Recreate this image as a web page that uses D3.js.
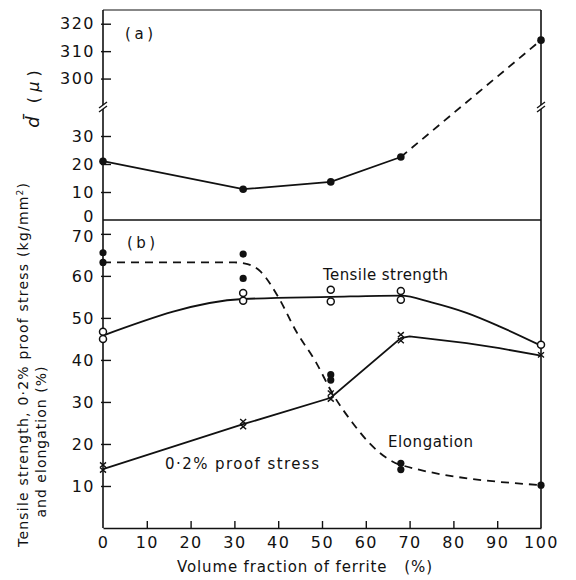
<!DOCTYPE html>
<html>
<head>
<meta charset="utf-8">
<script src="https://cdn.jsdelivr.net/npm/d3@7"></script>
<style>
body { margin: 0; background: #fff; }
text { font-family: "DejaVu Sans", sans-serif; fill: #111; white-space: pre; }
</style>
</head>
<body>
<div id="chart"></div>
<script>
var w = 576;
var h = 580;

// ---- data ----
var ferrite = [0, 32, 52, 68, 100];           // volume fraction of ferrite (%)
var grainSize = [21, 11, 13.6, 22.5, 314];     // mean grain size d (micron)

// measured points (two specimens per composition)
var tensileX = [0, 0, 32, 32, 52, 52, 68, 68, 100];
var tensileY = [46.7, 45, 55.9, 54.1, 56.7, 53.9, 56.4, 54.3, 43.6];
var proofX = [0, 0, 32, 32, 52, 52, 68, 68, 100];
var proofY = [15, 13.8, 25.3, 24.1, 32.1, 30.7, 46, 44.6, 41.2];
var elongX = [0, 0, 32, 32, 52, 52, 68, 68, 100];
var elongY = [65.5, 63.2, 65.2, 59.4, 36.5, 35.2, 15.4, 13.9, 10.2];

// hand drawn trend curves, as traced on the figure
var tensileCurveX = [0, 32, 52, 68, 75, 83, 90.5, 100];
var tensileCurveY = [45.8, 54.5, 55, 55.3, 53.7, 51.2, 48, 43.4];
var proofCurveX = [0, 32, 52, 68, 70, 83, 90.5, 100];
var proofCurveY = [14, 24.7, 31, 45.2, 45.6, 44, 42.8, 41];
var elongCurveX = [0, 30, 33, 36, 40, 44, 48.7, 52.4, 57, 61, 65, 68, 100];
var elongCurveY = [63.2, 63.2, 62.8, 61, 55, 47, 39.3, 32, 25, 20, 16.5, 15, 10.2];

var xTicks = [0, 10, 20, 30, 40, 50, 60, 70, 80, 90, 100];
var aTicks = [0, 10, 20, 30, 300, 310, 320];
var bTicks = [10, 20, 30, 40, 50, 60, 70];

function zip(xs, ys) { return xs.map(function(d, i) { return [d, ys[i]]; }); }

var svg = d3.select("#chart").append("svg")
  .attr("width", w)
  .attr("height", h);

// scales
var x = d3.scaleLinear().domain([0, 100]).range([103, 541]);
// panel (a) has a broken axis: 0-40 below the break, 290-325 above it
var yA = d3.scaleLinear().domain([0, 40, 290, 325]).range([220, 108, 106, 10]);
var yB = d3.scaleLinear().domain([0, 73.3]).range([528, 220]);

// ---- frame ----
var frame = svg.append("g").attr("stroke", "#111").attr("stroke-width", 1.6).attr("fill", "none");
frame.append("line").attr("x1", x(0)).attr("x2", x(100)).attr("y1", yA(325)).attr("y2", yA(325)).attr("stroke-width", 1.2);
frame.append("line").attr("x1", x(0)).attr("x2", x(100)).attr("y1", yA(0)).attr("y2", yA(0));
frame.append("line").attr("x1", x(100)).attr("x2", x(100)).attr("y1", yA(325)).attr("y2", yB(0));

// axes
var axA = svg.append("g")
  .attr("transform", "translate(" + x(0) + ",0)")
  .call(d3.axisLeft(yA).tickValues(aTicks).tickSizeInner(-8).tickSizeOuter(0).tickPadding(8));
var axB = svg.append("g")
  .attr("transform", "translate(" + x(0) + ",0)")
  .call(d3.axisLeft(yB).tickValues(bTicks).tickSizeInner(-8).tickSizeOuter(0).tickPadding(8));
var axX = svg.append("g")
  .attr("transform", "translate(0," + yB(0) + ")")
  .call(d3.axisBottom(x).tickValues(xTicks).tickSizeInner(-7).tickSizeOuter(0).tickPadding(9));

[axA, axB, axX].forEach(function(ax) {
  ax.select(".domain").attr("stroke", "#111").attr("stroke-width", 1.6);
  ax.selectAll(".tick line").attr("stroke", "#111").attr("stroke-width", 1.4);
  ax.selectAll(".tick text").attr("font-size", 16).attr("letter-spacing", 1.5)
    .attr("font-family", "DejaVu Sans").attr("fill", "#111");
});
axA.selectAll(".tick line").attr("x1", -2);
axB.selectAll(".tick line").attr("x1", -2);
axA.select(".domain").attr("d", "M0," + yA(325) + "V" + yA(0));
axB.select(".domain").attr("d", "M0," + yB(73.3) + "V" + yB(0));
axX.selectAll(".tick").filter(function(d) { return d === 0 || d === 100; }).select("line").remove();
// the two panels share the 0 / 70 corner: nudge those labels apart a little
axA.selectAll(".tick").filter(function(d) { return d === 0; }).select("line").remove();
axA.selectAll(".tick").filter(function(d) { return d === 0; }).select("text").attr("dy", "0.1em");
axB.selectAll(".tick").filter(function(d) { return d === 70; }).select("text").attr("dy", "0.45em");

// axis break marks on panel (a)
var yBreak = (yA(40) + yA(290)) / 2;
[x(0), x(100)].forEach(function(px) {
  svg.append("rect").attr("x", px - 3).attr("y", yBreak - 2).attr("width", 6).attr("height", 4).attr("fill", "#fff");
  [-2, 2].forEach(function(o) {
    svg.append("line")
      .attr("x1", px - 4).attr("x2", px + 4)
      .attr("y1", yBreak + o + 3).attr("y2", yBreak + o - 3)
      .attr("stroke", "#111").attr("stroke-width", 1.3);
  });
});

// ---- panel (a): grain size ----
var lineA = d3.line().x(function(d) { return x(d[0]); }).y(function(d) { return yA(d[1]); });
var ptsA = zip(ferrite, grainSize);
svg.append("path").datum(ptsA.slice(0, 4)).attr("d", lineA)
  .attr("fill", "none").attr("stroke", "#111").attr("stroke-width", 1.8);
svg.append("path").datum(ptsA.slice(3)).attr("d", lineA)
  .attr("fill", "none").attr("stroke", "#111").attr("stroke-width", 1.8).attr("stroke-dasharray", "8,6");
svg.selectAll(".dotA").data(ptsA).enter().append("circle")
  .attr("cx", function(d) { return x(d[0]); })
  .attr("cy", function(d) { return yA(d[1]); })
  .attr("r", 3.8).attr("fill", "#111");

// ---- panel (b) ----
var lineB = d3.line().x(function(d) { return x(d[0]); }).y(function(d) { return yB(d[1]); });
svg.append("path").datum(zip(tensileCurveX, tensileCurveY))
  .attr("d", lineB.curve(d3.curveMonotoneX))
  .attr("fill", "none").attr("stroke", "#111").attr("stroke-width", 1.8);
svg.append("path").datum(zip(proofCurveX, proofCurveY))
  .attr("d", lineB.curve(d3.curveLinear))
  .attr("fill", "none").attr("stroke", "#111").attr("stroke-width", 1.8);
svg.append("path").datum(zip(elongCurveX, elongCurveY))
  .attr("d", lineB.curve(d3.curveMonotoneX))
  .attr("fill", "none").attr("stroke", "#111").attr("stroke-width", 1.8).attr("stroke-dasharray", "8,6");

svg.selectAll(".tens").data(zip(tensileX, tensileY)).enter().append("circle")
  .attr("cx", function(d) { return x(d[0]); })
  .attr("cy", function(d) { return yB(d[1]); })
  .attr("r", 3.5).attr("fill", "#fff").attr("stroke", "#111").attr("stroke-width", 1.5);

svg.selectAll(".proof").data(zip(proofX, proofY)).enter().append("path")
  .attr("transform", function(d) { return "translate(" + x(d[0]) + "," + yB(d[1]) + ")"; })
  .attr("d", "M-3,-2.6L3,2.6M3,-2.6L-3,2.6")
  .attr("stroke", "#111").attr("stroke-width", 1.4).attr("fill", "none");

svg.selectAll(".elong").data(zip(elongX, elongY)).enter().append("circle")
  .attr("cx", function(d) { return x(d[0]); })
  .attr("cy", function(d) { return yB(d[1]); })
  .attr("r", 3.6).attr("fill", "#111");

// ---- text ----
function label(txt, px, py, size, len) {
  var t = svg.append("text").attr("x", px).attr("y", py).attr("font-size", size).text(txt);
  if (len) t.attr("textLength", len).attr("lengthAdjust", "spacing");
  return t;
}
label("(a)", 125, 39, 15, 28);
label("(b)", 127, 248, 15, 28);
label("Tensile strength", 323, 280, 15, 125);
label("0·2% proof stress", 165, 469, 15, 154);
label("Elongation", 388, 447, 15, 85);
label("Volume fraction of ferrite   (%)", 177, 572, 15, 255);

var yl1 = svg.append("text").attr("transform", "translate(28,365) rotate(-90)")
  .attr("text-anchor", "middle").attr("font-size", 14)
  .attr("textLength", 364).attr("lengthAdjust", "spacing");
yl1.append("tspan").text("Tensile strength, 0·2% proof stress (kg/mm");
yl1.append("tspan").attr("font-size", 9).attr("dy", -5).text("2");
yl1.append("tspan").attr("dy", 5).text(")");

svg.append("text").attr("transform", "translate(46,442) rotate(-90)")
  .attr("text-anchor", "middle").attr("font-size", 14)
  .attr("textLength", 151).attr("lengthAdjust", "spacing")
  .text("and elongation (%)");

var yl0 = svg.append("text").attr("transform", "translate(39,99) rotate(-90)")
  .attr("text-anchor", "middle").attr("font-size", 16);
yl0.append("tspan").attr("font-style", "italic").attr("font-size", 18).text("d\u0304");
yl0.append("tspan").text("\u2002 ( ");
yl0.append("tspan").attr("font-style", "italic").text("\u03bc");
yl0.append("tspan").text(" )");
</script>
</body>
</html>
